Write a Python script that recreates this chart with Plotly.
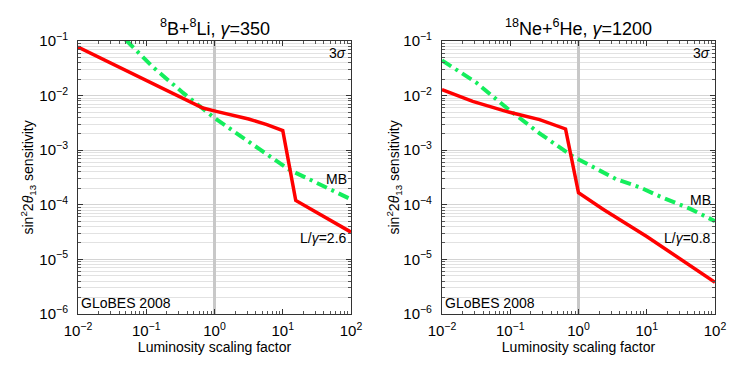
import plotly.graph_objects as go
from plotly.subplots import make_subplots

# 8B+8Li, gamma=350  (L/gamma = 2.6)
lum_bli_red = [0.01, 0.029, 0.0895, 0.275, 0.676, 1.06, 3.16, 5.85, 10.0, 15.5, 100.0]
sens_bli_red = [0.0776, 0.0406, 0.0201, 0.0104, 0.00593, 0.00514, 0.00372, 0.00295, 0.00229, 1.20e-4, 3.16e-5]
lum_bli_mb = [0.05, 0.126, 0.347, 1.0, 4.68, 12.6, 44.7, 100.0]
sens_bli_mb = [0.105, 0.0331, 0.0112, 0.00389, 0.00102, 4.37e-4, 2.04e-4, 1.26e-4]

# 18Ne+6He, gamma=1200  (L/gamma = 0.8)
lum_nehe_red = [0.01, 0.0282, 0.0871, 0.269, 0.646, 1.0, 2.29, 10.0, 100.0]
sens_nehe_red = [0.0129, 0.00783, 0.00513, 0.00363, 0.00245, 1.66e-4, 8.32e-5, 2.63e-5, 3.8e-6]
lum_nehe_mb = [0.01, 0.0316, 0.1, 0.269, 0.794, 3.55, 7.94, 15.8, 42.7, 100.0]
sens_nehe_mb = [0.0442, 0.0174, 0.00525, 0.00204, 7.94e-4, 2.95e-4, 2.09e-4, 1.41e-4, 8.51e-5, 5.01e-5]

x_tickvals = [0.01, 0.1, 1, 10, 100]
x_ticktext = ["10<sup>−2</sup>", "10<sup>−1</sup>", "10<sup>0</sup>", "10<sup>1</sup>", "10<sup>2</sup>"]
y_tickvals = [1e-6, 1e-5, 1e-4, 1e-3, 1e-2, 1e-1]
y_ticktext = ["10<sup>−6</sup>", "10<sup>−5</sup>", "10<sup>−4</sup>", "10<sup>−3</sup>", "10<sup>−2</sup>", "10<sup>−1</sup>"]

panel_titles = ["<sup>8</sup>B+<sup>8</sup>Li, <i>γ</i>=350", "<sup>18</sup>Ne+<sup>6</sup>He, <i>γ</i>=1200"]
red_labels = ["L/<i>γ</i>=2.6", "L/<i>γ</i>=0.8"]

FONT = "Liberation Sans, Arial, Helvetica, sans-serif"
RED = "#ff0000"
GREEN = "#14ee5c"

fig = make_subplots(rows=1, cols=2, horizontal_spacing=0.1428)

panels = [
    (lum_bli_red, sens_bli_red, lum_bli_mb, sens_bli_mb),
    (lum_nehe_red, sens_nehe_red, lum_nehe_mb, sens_nehe_mb),
]

for i, (lx, ly, mx, my) in enumerate(panels, start=1):
    # reference luminosity (scaling factor 1)
    fig.add_trace(go.Scatter(x=[1, 1], y=[1e-6, 1e-1], mode="lines",
                             line=dict(color="#c8c8c8", width=3),
                             showlegend=False, hoverinfo="skip"), row=1, col=i)
    fig.add_trace(go.Scatter(x=mx, y=my, mode="lines",
                             line=dict(color=GREEN, width=4, dash="11px,5px,3px,5px"),
                             showlegend=False), row=1, col=i)
    fig.add_trace(go.Scatter(x=lx, y=ly, mode="lines",
                             line=dict(color=RED, width=3.5),
                             showlegend=False), row=1, col=i)

axis_common = dict(
    type="log", automargin=False,
    showline=True, linecolor="#333", linewidth=1, mirror="allticks",
    ticks="inside", ticklen=5, tickcolor="#333",
    tickfont=dict(size=15, color="black", family=FONT),
    zeroline=False,
)

fig.update_xaxes(**axis_common, range=[-2, 2], showgrid=False,
                 tickmode="array", tickvals=x_tickvals, ticktext=x_ticktext,
                 ticklabelstandoff=3,
                 minor=dict(dtick="D1", ticks="inside", ticklen=3, tickcolor="#555", showgrid=False),
                 title=dict(text="Luminosity scaling factor", font=dict(size=14, color="black", family=FONT),
                            standoff=0))
fig.update_yaxes(**axis_common, range=[-6, -1], showgrid=True, gridcolor="#d4d4d4", gridwidth=1,
                 tickmode="array", tickvals=y_tickvals, ticktext=y_ticktext,
                 ticklabelstandoff=6,
                 minor=dict(dtick="D1", ticks="inside", ticklen=3, tickcolor="#555", showgrid=True,
                            gridcolor="#e2e2e2", gridwidth=1))

annotations = []
for i, (xr, yr) in enumerate([("x domain", "y domain"), ("x2 domain", "y2 domain")]):
    annotations.append(dict(text=panel_titles[i], xref=xr, yref="paper", x=0.5, y=1,
                            yshift=14, yanchor="middle", showarrow=False,
                            font=dict(size=18, color="black", family=FONT)))
    annotations.append(dict(text="3<i>σ</i>", xref=xr, yref=yr, x=1, y=1, xanchor="right",
                            yanchor="top", xshift=-3, yshift=-2, showarrow=False,
                            font=dict(size=14, color="black", family=FONT)))
    annotations.append(dict(text="GLoBES 2008", xref=xr, yref=yr, x=0, y=0.039, xanchor="left",
                            yanchor="middle", xshift=1, showarrow=False,
                            font=dict(size=14, color="black", family=FONT)))
    annotations.append(dict(text="MB", xref=xr, yref=yr, x=1, y=[0.4945, 0.4176][i],
                            xanchor="right", yanchor="middle", xshift=-2, showarrow=False,
                            font=dict(size=14, color="black", family=FONT)))
    annotations.append(dict(text=red_labels[i], xref=xr, yref=yr, x=1, y=0.2795,
                            xanchor="right", yanchor="middle", xshift=-2, showarrow=False,
                            font=dict(size=14, color="black", family=FONT)))
    annotations.append(dict(text="sin<sup>2</sup>2<i>θ</i><sub>13</sub> sensitivity", xref="paper",
                            yref=yr, x=[(28 - 78) / 637, (394 - 78) / 637][i], y=0.5,
                            xanchor="center", yanchor="middle", textangle=-90, showarrow=False,
                            font=dict(size=14, color="black", family=FONT)))

# page body adds an 8px margin, so the figure is sized to fill the rest of the window
fig.update_layout(
    width=739, height=357,
    margin=dict(l=70, r=32, t=33, b=51),
    paper_bgcolor="white", plot_bgcolor="white",
    font=dict(family=FONT, color="black"),
    annotations=annotations,
    showlegend=False,
)

fig.write_html("out.html")
